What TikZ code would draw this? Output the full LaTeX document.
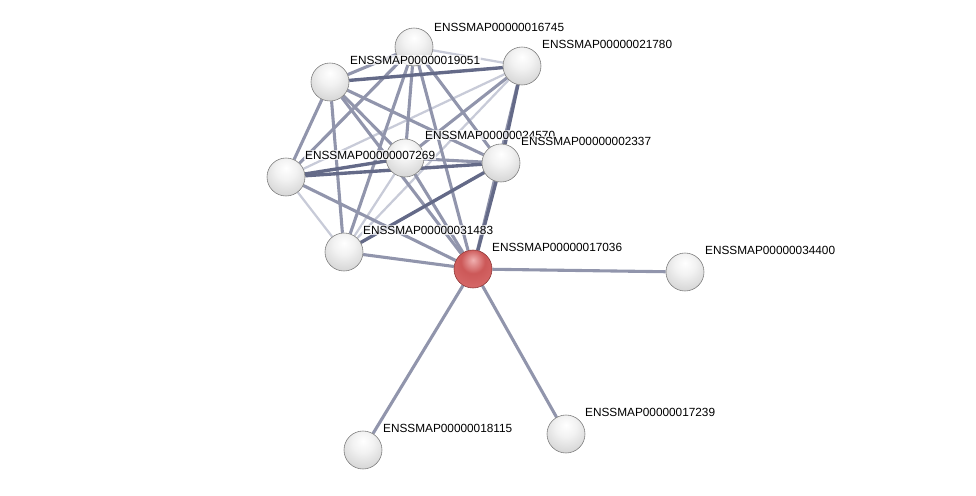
\documentclass[tikz,border=0pt]{standalone}
\usepackage{fontspec}
\setmainfont{Liberation Sans}
\usetikzlibrary{backgrounds}
\definecolor{txt}{HTML}{000000}
\definecolor{edM}{HTML}{9195AC}
\definecolor{edD}{HTML}{646A88}
\definecolor{edL}{HTML}{C8CBD8}
\definecolor{gyA}{HTML}{F2F2F2}
\definecolor{gyB}{HTML}{D4D4D4}
\definecolor{gyC}{HTML}{C6C6C6}
\definecolor{gyD}{HTML}{8C8C8C}
\definecolor{rdA}{HTML}{F0B0B0}
\definecolor{rdB}{HTML}{CC5858}
\definecolor{rdC}{HTML}{DE7676}
\definecolor{rdD}{HTML}{963C3C}
\definecolor{rimG}{HTML}{7A7A7A}
\definecolor{rimR}{HTML}{8A3434}
\pgfdeclareradialshading{gball}{\pgfpoint{0bp}{12bp}}{color(0bp)=(white);color(14bp)=(gyA);color(34bp)=(gyB);color(54bp)=(gyC);color(62bp)=(gyD);color(100bp)=(gyD)}
\pgfdeclareradialshading{rball}{\pgfpoint{0bp}{12bp}}{color(0bp)=(rdA);color(16bp)=(rdB);color(48bp)=(rdC);color(62bp)=(rdD);color(100bp)=(rdD)}

\begin{document}
\begin{tikzpicture}[
  x=0.025cm,y=-0.025cm,
  font=\fontsize{8.4}{10}\selectfont,text=txt,
  prot/.style={circle,minimum size=0.95cm,inner sep=0pt,shading=gball,draw=rimG,line width=0.4pt},
  hub/.style={prot,shading=rball,draw=rimR},
  lbl/.style={anchor=west,inner sep=0.6pt,fill=white,fill opacity=0.75,text opacity=1},
  e/.style={edM,line width=2.2pt},
  ed/.style={edD,line width=2.4pt},
  el/.style={edL,line width=1.6pt},
  ]
\useasboundingbox (0,0) rectangle (976,495);

% ================= proteins =================
\node[prot] (p16745) at (414,47)  {};
\node[prot] (p21780) at (522,66)  {};
\node[prot] (p19051) at (330,82)  {};
\node[prot] (p24570) at (405,158) {};
\node[prot] (p2337)  at (501,163) {};
\node[prot] (p7269)  at (286,177) {};
\node[prot] (p31483) at (344,252) {};
\node[hub]  (p17036) at (473,269) {};
\node[prot] (p34400) at (685,272) {};
\node[prot] (p17239) at (566,434) {};
\node[prot] (p18115) at (363,450) {};

% ================= interactions =================
\begin{scope}[on background layer]
% light
\draw[el] (p16745) -- (p21780);
\draw[el] (p21780) -- (p7269);
\draw[el] (p21780) -- (p31483);
\draw[el] (p7269) -- (p31483);
\draw[el] (p24570) -- (p31483);
% medium
\foreach \a/\b in {p16745/p19051,p16745/p7269,p16745/p31483,p16745/p24570,p16745/p2337,
  p16745/p17036,p21780/p24570,p21780/p17036,p19051/p7269,p19051/p31483,p19051/p24570,
  p19051/p2337,p19051/p17036,p7269/p17036,p24570/p2337,p24570/p17036,p31483/p17036,
  p17036/p34400,p17036/p17239,p17036/p18115}
  \draw[e] (\a) -- (\b);
% dark
\foreach \a/\b in {p21780/p2337,p19051/p21780,p7269/p2337,p7269/p24570,p2337/p17036,p2337/p31483}
  \draw[ed] (\a) -- (\b);
\end{scope}

% ================= labels =================
\node[lbl] (l16745) at ([shift={(19,-20)}]p16745.center) {ENSSMAP00000016745};
\node[lbl] (l21780) at ([shift={(19,-22)}]p21780.center) {ENSSMAP00000021780};
\node[lbl] (l19051) at ([shift={(19,-22)}]p19051.center) {ENSSMAP00000019051};
\node[lbl] (l24570) at ([shift={(19,-23)}]p24570.center) {ENSSMAP00000024570};
\node[lbl] (l2337)  at ([shift={(19,-22)}]p2337.center)  {ENSSMAP00000002337};
\node[lbl] (l7269)  at ([shift={(18,-22)}]p7269.center)  {ENSSMAP00000007269};
\node[lbl] (l31483) at ([shift={(18,-22)}]p31483.center) {ENSSMAP00000031483};
\node[lbl] (l17036) at ([shift={(18,-22)}]p17036.center) {ENSSMAP00000017036};
\node[lbl] (l34400) at ([shift={(19,-22)}]p34400.center) {ENSSMAP00000034400};
\node[lbl] (l17239) at ([shift={(18,-22)}]p17239.center) {ENSSMAP00000017239};
\node[lbl] (l18115) at ([shift={(19,-22)}]p18115.center) {ENSSMAP00000018115};

\end{tikzpicture}
\end{document}
